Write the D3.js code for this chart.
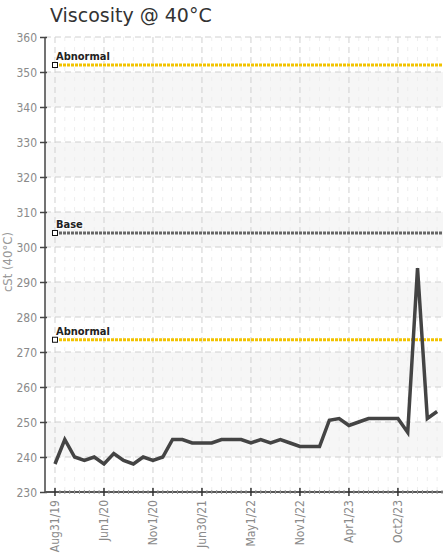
<!DOCTYPE html>
<html>
<head>
<meta charset="utf-8">
<script src="https://cdn.jsdelivr.net/npm/d3@7"></script>
<style>
  body { margin: 0; background: #fff; }
  .tick-label { font-family: "DejaVu Sans Condensed", "Liberation Sans Narrow", sans-serif; font-size: 12px; fill: #8a8a8a; }
  .ref-label { font-family: "DejaVu Sans Condensed", sans-serif; font-size: 11px; font-weight: bold; fill: #222; }
</style>
</head>
<body>
<svg id="chart"></svg>
<script>
// viscosity readings, one per sample
const values = [238, 245, 240, 239, 240, 238, 241, 239, 238, 240,
                239, 240, 245, 245, 244, 244, 244, 245, 245, 245,
                244, 245, 244, 245, 244, 243, 243, 243, 250.5, 251,
                249, 250, 251, 251, 251, 251, 247, 294, 251, 253];

// labelled samples (index -> label)
const tickIndex = [0, 5, 10, 15, 20, 25, 30, 35];
const tickLabels = ["Aug31/19", "Jun1/20", "Nov1/20", "Jun30/21", "May1/22", "Nov1/22", "Apr1/23", "Oct2/23"];

// limit lines
const refNames = ["Abnormal", "Base", "Abnormal"];
const refValues = [352, 304, 273.5];
const refColors = ["#f2c300", "#666666", "#f2c300"];

const yTicks = d3.range(230, 361, 10);

const config = {
  width: 443,
  height: 558,
  margin: {top: 37, right: 0, bottom: 66, left: 45}
};

const svg = d3.select('#chart')
  .attr('width', config.width)
  .attr('height', config.height);

const innerW = config.width - config.margin.left - config.margin.right;
const innerH = config.height - config.margin.top - config.margin.bottom;

const chart = svg.append('g')
  .attr('transform', `translate(${config.margin.left},${config.margin.top})`);

const xScale = d3.scaleLinear().domain([-1.02, 39.6]).range([0, innerW]);
const yScale = d3.scaleLinear().domain([230, 360]).range([innerH, 0]);

// alternating bands
chart.selectAll('.band')
  .data(yTicks.filter(d => d < 360 && (d / 10) % 2 === 0))
  .join('rect')
  .attr('class', 'band')
  .attr('x', 0)
  .attr('width', innerW)
  .attr('y', d => yScale(d + 10))
  .attr('height', d => yScale(d) - yScale(d + 10))
  .attr('fill', '#f6f6f6');

// minor vertical grid
chart.selectAll('.vgrid-minor')
  .data(d3.range(0, 40).filter(i => !tickIndex.includes(i)))
  .join('line')
  .attr('class', 'vgrid-minor')
  .attr('x1', d => xScale(d)).attr('x2', d => xScale(d))
  .attr('y1', 0).attr('y2', innerH)
  .attr('stroke', '#eeeeee')
  .attr('stroke-dasharray', '4,6');

// horizontal grid
chart.selectAll('.hgrid')
  .data(yTicks.filter(d => d > 230))
  .join('line')
  .attr('class', 'hgrid')
  .attr('x1', 0).attr('x2', innerW)
  .attr('y1', d => yScale(d)).attr('y2', d => yScale(d))
  .attr('stroke', '#d0d0d0')
  .attr('stroke-dasharray', '6,4');

// major vertical grid
chart.selectAll('.vgrid')
  .data(tickIndex)
  .join('line')
  .attr('class', 'vgrid')
  .attr('x1', d => xScale(d)).attr('x2', d => xScale(d))
  .attr('y1', 0).attr('y2', innerH)
  .attr('stroke', '#d0d0d0')
  .attr('stroke-dasharray', '6,4');

// reference lines
const refs = refNames.map((n, i) => ({name: n, value: refValues[i], color: refColors[i]}));

chart.selectAll('.ref')
  .data(refs)
  .join('line')
  .attr('class', 'ref')
  .attr('x1', xScale(0)).attr('x2', innerW)
  .attr('y1', d => yScale(d.value)).attr('y2', d => yScale(d.value))
  .attr('stroke', d => d.color)
  .attr('stroke-width', 3)
  .attr('stroke-dasharray', '3,1');

chart.selectAll('.ref-mark')
  .data(refs)
  .join('rect')
  .attr('class', 'ref-mark')
  .attr('x', xScale(0) - 2.5)
  .attr('y', d => yScale(d.value) - 2.5)
  .attr('width', 5).attr('height', 5)
  .attr('fill', '#fff')
  .attr('stroke', '#111')
  .attr('stroke-width', 1);

chart.selectAll('.ref-label')
  .data(refs)
  .join('text')
  .attr('class', 'ref-label')
  .attr('x', xScale(0) + 1)
  .attr('y', d => yScale(d.value) - 5)
  .style('paint-order', 'stroke')
  .style('stroke', '#fff')
  .style('stroke-width', 2)
  .text(d => d.name);

// data line
const line = d3.line()
  .x((d, i) => xScale(i))
  .y(d => yScale(d));

chart.append('path')
  .datum(values)
  .attr('d', line)
  .attr('fill', 'none')
  .attr('stroke', '#444')
  .attr('stroke-width', 3.5)
  .attr('stroke-linejoin', 'miter');

// y axis
const yAxis = d3.axisLeft(yScale).tickValues(yTicks).tickSize(5).tickPadding(3);
const yAxisG = chart.append('g').call(yAxis);
yAxisG.select('.domain').attr('stroke', '#444').attr('stroke-width', 1.5).attr('d', `M0,0V${innerH}`);
yAxisG.selectAll('.tick line').attr('stroke', '#444').attr('x1', 2).attr('x2', -5).attr('stroke-width', 1.5);
yAxisG.selectAll('.tick text').attr('class', 'tick-label').attr('dy', '0.35em');

// x axis
const xAxisG = chart.append('g').attr('transform', `translate(0,${innerH})`);
xAxisG.append('line')
  .attr('x1', 0).attr('x2', innerW)
  .attr('stroke', '#555').attr('stroke-width', 2);

xAxisG.selectAll('.minor-tick')
  .data(d3.range(0, 39.6, 0.5).filter(i => !tickIndex.includes(i)))
  .join('line')
  .attr('class', 'minor-tick')
  .attr('x1', d => xScale(d)).attr('x2', d => xScale(d))
  .attr('y1', -2).attr('y2', 2)
  .attr('stroke', '#999');

xAxisG.selectAll('.major-tick')
  .data(tickIndex)
  .join('line')
  .attr('class', 'major-tick')
  .attr('x1', d => xScale(d)).attr('x2', d => xScale(d))
  .attr('y1', -4).attr('y2', 4)
  .attr('stroke', '#333').attr('stroke-width', 1.5);

xAxisG.selectAll('.x-label')
  .data(tickIndex)
  .join('text')
  .attr('class', 'tick-label x-label')
  .attr('text-anchor', 'end')
  .attr('transform', d => `translate(${xScale(d) + 4},8) rotate(-90)`)
  .text((d, i) => tickLabels[i]);

// y axis title
svg.append('text')
  .attr('transform', `translate(12,262) rotate(-90)`)
  .attr('text-anchor', 'middle')
  .style('font-family', '"DejaVu Sans Condensed", sans-serif')
  .style('font-size', '13px')
  .style('fill', '#999')
  .text('cSt (40°C)');

// title
svg.append('text')
  .attr('x', 50)
  .attr('y', 22)
  .style('font-family', '"DejaVu Sans", sans-serif')
  .style('font-size', '19px')
  .style('fill', '#333')
  .text('Viscosity @ 40°C');
</script>
</body>
</html>
